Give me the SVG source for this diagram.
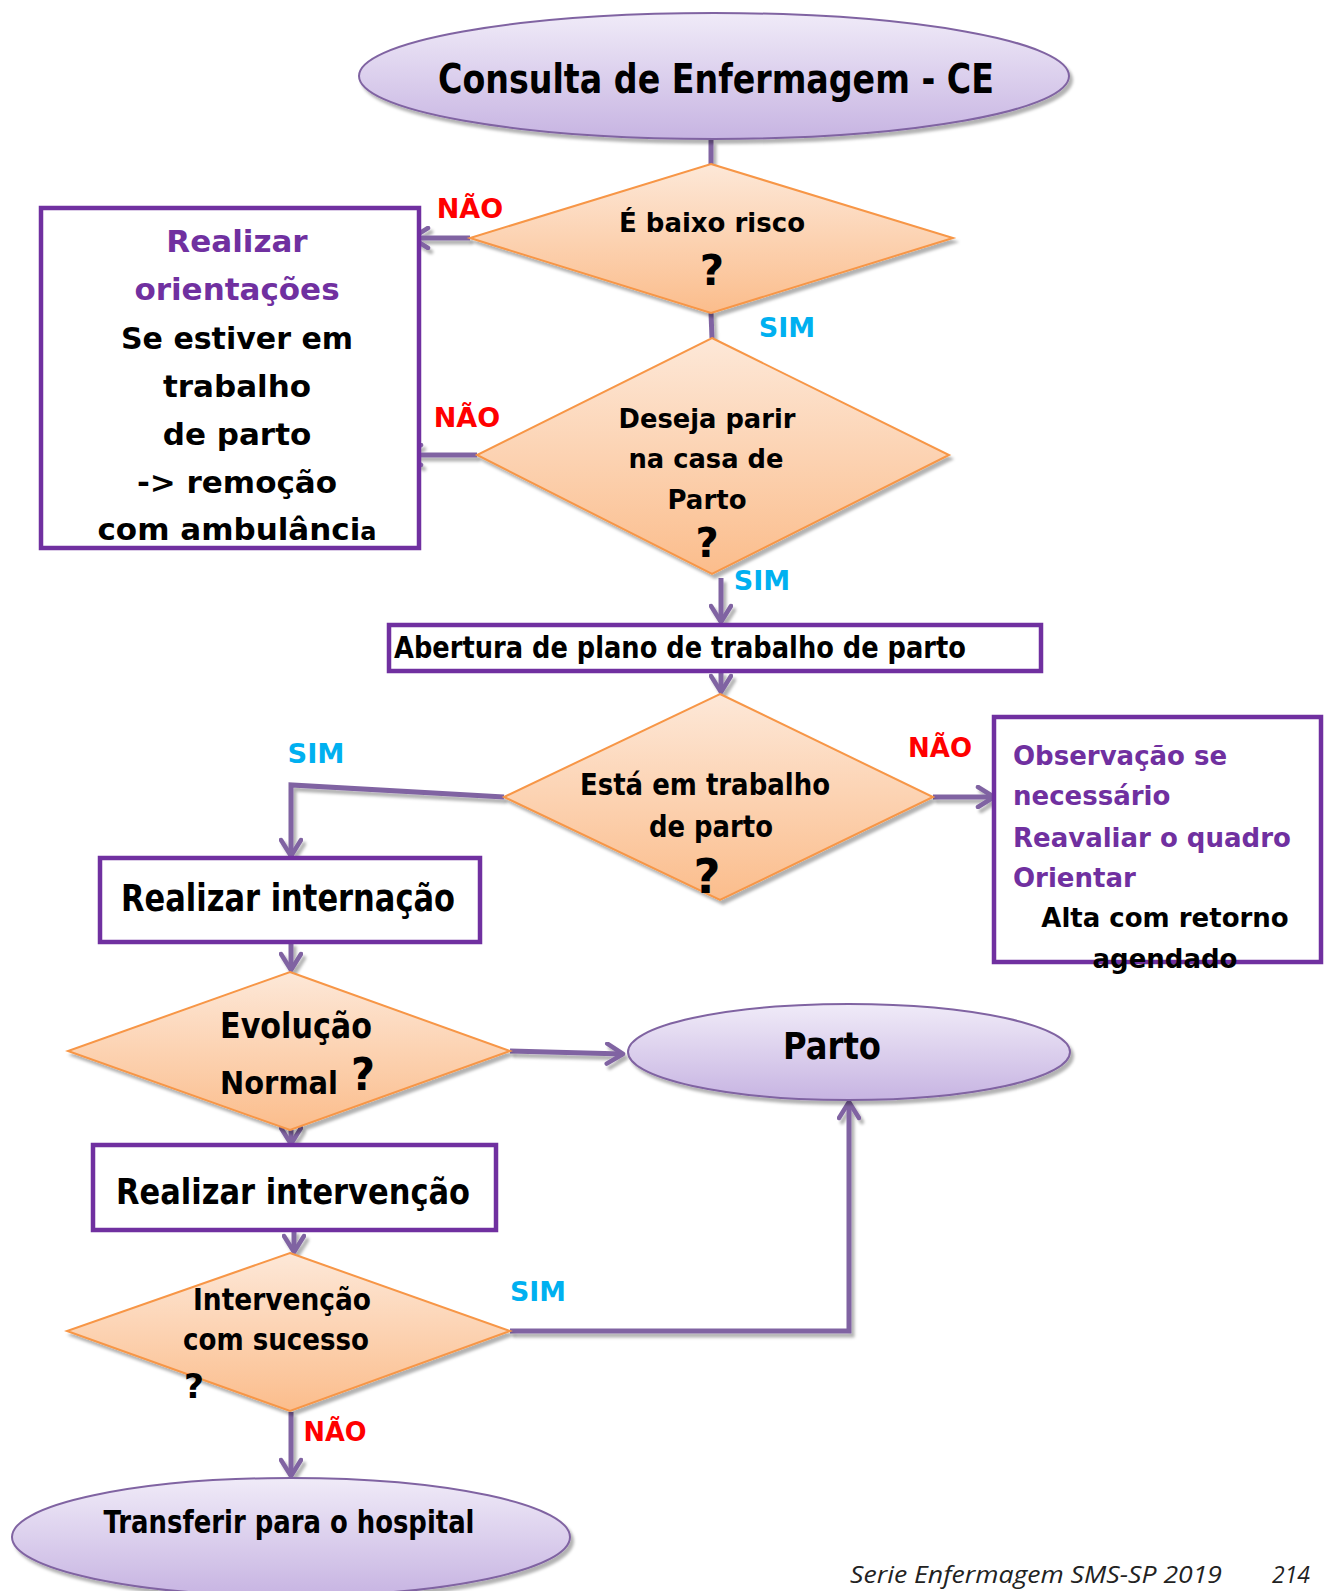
<svg xmlns="http://www.w3.org/2000/svg" width="1328" height="1591" viewBox="0 0 1328 1591">
<style>
.t{font-family:'DejaVu Sans',Verdana,sans-serif;font-weight:bold;fill:#000}
.pu{fill:#7030a0}
.no{fill:#ff0000;font-size:27px}
.si{fill:#00b0f0;font-size:27px}
.box{fill:#fff;stroke:#7030a0;stroke-width:4.5}
.dia{fill:url(#gd);stroke:#f79646;stroke-width:2;filter:url(#sh)}
.ell{fill:url(#ge);stroke:#8064a2;stroke-width:2;filter:url(#sh)}
.c{fill:none;stroke:#8064a2;stroke-width:5}
.foot{font-family:'Open Sans','Noto Sans',sans-serif;font-style:italic;font-size:24px;fill:#222}
</style>
<defs>
<linearGradient id="gd" x1="0" y1="0" x2="0" y2="1"><stop offset="0" stop-color="#fde8d8"/><stop offset="1" stop-color="#fbbd8c"/></linearGradient>
<linearGradient id="ge" x1="0" y1="0" x2="0" y2="1"><stop offset="0" stop-color="#f0ebf8"/><stop offset="1" stop-color="#c7b4e2"/></linearGradient>
<filter id="sh" x="-10%" y="-10%" width="130%" height="130%"><feDropShadow dx="3" dy="4" stdDeviation="1.5" flood-color="#000" flood-opacity="0.3"/></filter>
<marker id="ah" viewBox="0 0 22 24" refX="19" refY="12" markerWidth="22" markerHeight="24" orient="auto" markerUnits="userSpaceOnUse"><path d="M3,2 L19,12 L3,22" fill="none" stroke="#8064a2" stroke-width="4.5" stroke-linecap="round" stroke-linejoin="round"/></marker>
</defs>
<rect width="1328" height="1591" fill="#fff"/>

<g id="connectors" filter="url(#sh)">
<line class="c" x1="711" y1="140" x2="711" y2="164"/>
<line class="c" x1="470" y1="238" x2="412" y2="238" marker-end="url(#ah)"/>
<line class="c" x1="711" y1="313" x2="712" y2="338"/>
<line class="c" x1="477" y1="455" x2="405" y2="455" marker-end="url(#ah)"/>
<line class="c" x1="721" y1="578" x2="721" y2="622" marker-end="url(#ah)"/>
<line class="c" x1="721" y1="671" x2="721" y2="692" marker-end="url(#ah)"/>
<polyline class="c" points="504,797 291,785 291,856" marker-end="url(#ah)"/>
<line class="c" x1="933" y1="797" x2="994" y2="797" marker-end="url(#ah)"/>
<line class="c" x1="291" y1="942" x2="291" y2="970" marker-end="url(#ah)"/>
<line class="c" x1="510" y1="1051" x2="623" y2="1054" marker-end="url(#ah)"/>
<line class="c" x1="291" y1="1130" x2="291" y2="1144" marker-end="url(#ah)"/>
<line class="c" x1="294" y1="1230" x2="294" y2="1252" marker-end="url(#ah)"/>
<polyline class="c" points="510,1331 849,1331 849,1102" marker-end="url(#ah)"/>
<line class="c" x1="291" y1="1412" x2="291" y2="1476" marker-end="url(#ah)"/>
</g>

<g id="labels">
<text class="t no" x="470" y="218" text-anchor="middle">NÃO</text>
<text class="t si" x="787" y="337" text-anchor="middle">SIM</text>
<text class="t no" x="467" y="427" text-anchor="middle">NÃO</text>
<text class="t si" x="762" y="590" text-anchor="middle">SIM</text>
<text class="t si" x="316" y="763" text-anchor="middle" textLength="57" lengthAdjust="spacingAndGlyphs">SIM</text>
<text class="t no" x="940" y="757" text-anchor="middle" textLength="64" lengthAdjust="spacingAndGlyphs">NÃO</text>
<text class="t si" x="538" y="1301" text-anchor="middle" textLength="56" lengthAdjust="spacingAndGlyphs">SIM</text>
<text class="t no" x="335" y="1441" text-anchor="middle" textLength="63" lengthAdjust="spacingAndGlyphs">NÃO</text>
</g>

<g id="n-consulta">
<ellipse class="ell" cx="714" cy="76" rx="355" ry="63"/>
<text class="t" x="716" y="93" font-size="40" text-anchor="middle" textLength="556" lengthAdjust="spacingAndGlyphs">Consulta de Enfermagem - CE</text>
</g>

<g id="n-baixo-risco">
<polygon class="dia" points="711,164 953,238 711,313 470,238"/>
<text class="t" x="712" y="232" font-size="26" text-anchor="middle" textLength="186" lengthAdjust="spacingAndGlyphs">É baixo risco</text>
<text class="t" x="712" y="285" font-size="42" text-anchor="middle">?</text>
</g>

<g id="n-orientacoes">
<rect class="box" x="41" y="208" width="378" height="340"/>
<g class="t" font-size="31" text-anchor="middle">
<text class="pu" x="237" y="252">Realizar</text>
<text class="pu" x="237" y="300">orientações</text>
<text x="237" y="349" textLength="232" lengthAdjust="spacingAndGlyphs">Se estiver em</text>
<text x="237" y="397">trabalho</text>
<text x="237" y="445">de parto</text>
<text x="237" y="493">-&gt; remoção</text>
<text x="237" y="540">com ambulânci<tspan font-size="24">a</tspan></text>
</g>
</g>

<g id="n-casa-parto">
<polygon class="dia" points="712,338 949,455 712,574 477,455"/>
<g class="t" font-size="26" text-anchor="middle">
<text x="707" y="428" textLength="177" lengthAdjust="spacingAndGlyphs">Deseja parir</text>
<text x="706" y="468" textLength="155" lengthAdjust="spacingAndGlyphs">na casa de</text>
<text x="707" y="509" textLength="79" lengthAdjust="spacingAndGlyphs">Parto</text>
<text x="707" y="557" font-size="40">?</text>
</g>
</g>

<g id="n-abertura">
<rect class="box" x="389" y="625" width="652" height="46"/>
<text class="t" x="394" y="658" font-size="30" textLength="572" lengthAdjust="spacingAndGlyphs">Abertura de plano de trabalho de parto</text>
</g>

<g id="n-trabalho-parto">
<polygon class="dia" points="720,694 933,797 720,900 504,797"/>
<g class="t" text-anchor="middle">
<text x="705" y="795" font-size="31" textLength="250" lengthAdjust="spacingAndGlyphs">Está em trabalho</text>
<text x="711" y="837" font-size="31" textLength="124" lengthAdjust="spacingAndGlyphs">de parto</text>
<text x="707" y="893" font-size="48" textLength="27" lengthAdjust="spacingAndGlyphs">?</text>
</g>
</g>

<g id="n-observacao">
<rect class="box" x="994" y="717" width="327" height="245"/>
<g class="t" font-size="26">
<text class="pu" x="1013" y="765">Observação se</text>
<text class="pu" x="1013" y="805">necessário</text>
<text class="pu" x="1013" y="847">Reavaliar o quadro</text>
<text class="pu" x="1013" y="887">Orientar</text>
<text x="1165" y="927" text-anchor="middle">Alta com retorno</text>
<text x="1165" y="968" text-anchor="middle">agendado</text>
</g>
</g>

<g id="n-internacao">
<rect class="box" x="100" y="858" width="380" height="84"/>
<text class="t" x="121" y="911" font-size="37" textLength="334" lengthAdjust="spacingAndGlyphs">Realizar internação</text>
</g>

<g id="n-evolucao">
<polygon class="dia" points="290,972 510,1051 290,1130 68,1051"/>
<text class="t" x="220" y="1038" font-size="36" textLength="152" lengthAdjust="spacingAndGlyphs">Evolução</text>
<text class="t" x="220" y="1094" font-size="32" textLength="118" lengthAdjust="spacingAndGlyphs">Normal</text>
<text class="t" x="351" y="1090" font-size="44" textLength="24" lengthAdjust="spacingAndGlyphs">?</text>
</g>

<g id="n-parto">
<ellipse class="ell" cx="849" cy="1052" rx="221" ry="48"/>
<text class="t" x="832" y="1059" font-size="38" text-anchor="middle" textLength="98" lengthAdjust="spacingAndGlyphs">Parto</text>
</g>

<g id="n-intervencao">
<rect class="box" x="93" y="1145" width="403" height="85"/>
<text class="t" x="116" y="1204" font-size="36" textLength="354" lengthAdjust="spacingAndGlyphs">Realizar intervenção</text>
</g>

<g id="n-sucesso">
<polygon class="dia" points="290,1253 510,1331 290,1411 67,1331"/>
<g class="t" font-size="30">
<text x="282" y="1310" text-anchor="middle" textLength="178" lengthAdjust="spacingAndGlyphs">Intervenção</text>
<text x="276" y="1350" text-anchor="middle" textLength="186" lengthAdjust="spacingAndGlyphs">com sucesso</text>
<text x="184" y="1398" font-size="34" textLength="20" lengthAdjust="spacingAndGlyphs">?</text>
</g>
</g>

<g id="n-transferir">
<ellipse class="ell" cx="291" cy="1537" rx="279" ry="59"/>
<text class="t" x="289" y="1533" font-size="32" text-anchor="middle" textLength="371" lengthAdjust="spacingAndGlyphs">Transferir para o hospital</text>
</g>

<g id="footer">
<text class="foot" x="850" y="1583" textLength="372" lengthAdjust="spacingAndGlyphs">Serie Enfermagem SMS-SP 2019</text>
<text class="foot" x="1272" y="1583" textLength="38" lengthAdjust="spacingAndGlyphs">214</text>
</g>
</svg>
